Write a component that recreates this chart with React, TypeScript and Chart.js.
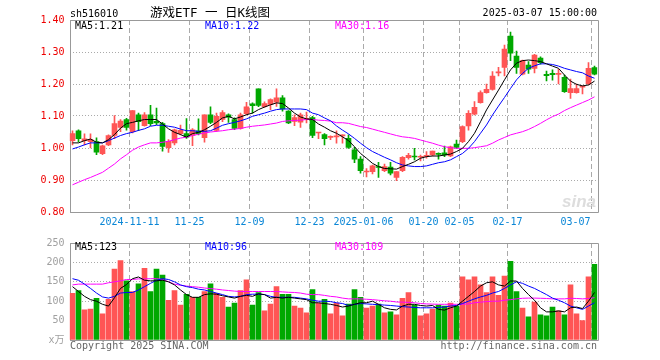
import React, { useEffect, useRef } from "react";
import { Chart, registerables } from "chart.js";

Chart.register(...registerables);

const dates = [
  "2024-10-28", "2024-10-29", "2024-10-30", "2024-10-31", "2024-11-01",
  "2024-11-04", "2024-11-05", "2024-11-06", "2024-11-07", "2024-11-08",
  "2024-11-11", "2024-11-12", "2024-11-13", "2024-11-14", "2024-11-15",
  "2024-11-18", "2024-11-19", "2024-11-20", "2024-11-21", "2024-11-22",
  "2024-11-25", "2024-11-26", "2024-11-27", "2024-11-28", "2024-11-29",
  "2024-12-02", "2024-12-03", "2024-12-04", "2024-12-05", "2024-12-06",
  "2024-12-09", "2024-12-10", "2024-12-11", "2024-12-12", "2024-12-13",
  "2024-12-16", "2024-12-17", "2024-12-18", "2024-12-19", "2024-12-20",
  "2024-12-23", "2024-12-24", "2024-12-25", "2024-12-26", "2024-12-27",
  "2024-12-30", "2024-12-31", "2025-01-02", "2025-01-03",
  "2025-01-06", "2025-01-07", "2025-01-08", "2025-01-09", "2025-01-10",
  "2025-01-13", "2025-01-14", "2025-01-15", "2025-01-16", "2025-01-17",
  "2025-01-20", "2025-01-21", "2025-01-22", "2025-01-23", "2025-01-24",
  "2025-01-27",
  "2025-02-05", "2025-02-06", "2025-02-07",
  "2025-02-10", "2025-02-11", "2025-02-12", "2025-02-13", "2025-02-14",
  "2025-02-17", "2025-02-18", "2025-02-19", "2025-02-20", "2025-02-21",
  "2025-02-24", "2025-02-25", "2025-02-26", "2025-02-27", "2025-02-28",
  "2025-03-03", "2025-03-04", "2025-03-05", "2025-03-06", "2025-03-07",
];

const opens = [
  1.023, 1.054, 1.023, 1.020, 1.020, 0.982, 1.010, 1.039, 1.064, 1.089,
  1.051, 1.104, 1.070, 1.104, 1.083, 1.076, 1.001, 1.016, 1.045, 1.045,
  1.039, 1.054, 1.032, 1.104, 1.055, 1.089, 1.104, 1.089, 1.061, 1.107,
  1.138, 1.185, 1.129, 1.136, 1.143, 1.157, 1.115, 1.083, 1.081, 1.089,
  1.095, 1.047, 1.042, 1.033, 1.035, 1.038, 1.030, 0.994, 0.965, 0.925,
  0.926, 0.941, 0.929, 0.940, 0.908, 0.929, 0.970, 0.974, 0.971, 0.974,
  0.978, 0.983, 0.985, 0.975, 1.012, 1.020, 1.069, 1.106, 1.142, 1.173,
  1.183, 1.235, 1.252, 1.350, 1.287, 1.231, 1.259, 1.249, 1.281, 1.230,
  1.233, 1.230, 1.221, 1.173, 1.173, 1.190, 1.200, 1.251,
];
const highs = [
  1.054, 1.057, 1.044, 1.044, 1.032, 1.009, 1.041, 1.101, 1.089, 1.093,
  1.117, 1.109, 1.111, 1.133, 1.125, 1.080, 1.026, 1.059, 1.072, 1.092,
  1.061, 1.091, 1.104, 1.129, 1.109, 1.117, 1.107, 1.094, 1.109, 1.143,
  1.141, 1.185, 1.144, 1.154, 1.185, 1.164, 1.117, 1.104, 1.109, 1.112,
  1.099, 1.048, 1.045, 1.038, 1.054, 1.041, 1.041, 1.002, 0.973, 0.936,
  0.947, 0.955, 0.950, 0.955, 0.926, 0.973, 0.983, 0.999, 0.978, 0.989,
  0.990, 0.985, 1.006, 1.006, 1.025, 1.069, 1.117, 1.145, 1.179, 1.200,
  1.239, 1.252, 1.322, 1.362, 1.303, 1.275, 1.270, 1.293, 1.285, 1.240,
  1.244, 1.246, 1.228, 1.215, 1.200, 1.194, 1.267, 1.256,
];
const lows = [
  1.010, 1.019, 1.010, 1.000, 0.979, 0.979, 1.007, 1.029, 1.051, 1.056,
  1.047, 1.054, 1.068, 1.070, 1.073, 0.990, 0.986, 1.010, 1.041, 1.030,
  1.007, 1.041, 1.018, 1.076, 1.052, 1.082, 1.080, 1.057, 1.059, 1.103,
  1.109, 1.129, 1.127, 1.120, 1.130, 1.115, 1.076, 1.070, 1.064, 1.078,
  1.032, 1.029, 1.010, 1.026, 1.015, 1.015, 0.999, 0.954, 0.921, 0.910,
  0.919, 0.908, 0.926, 0.916, 0.898, 0.926, 0.965, 0.963, 0.960, 0.968,
  0.975, 0.965, 0.973, 0.973, 0.999, 1.017, 1.056, 1.103, 1.140, 1.171,
  1.181, 1.225, 1.225, 1.273, 1.233, 1.228, 1.233, 1.235, 1.262, 1.210,
  1.212, 1.200, 1.174, 1.155, 1.171, 1.169, 1.197, 1.228,
];
const closes = [
  1.045, 1.029, 1.029, 1.026, 0.987, 1.007, 1.039, 1.076, 1.084, 1.064,
  1.117, 1.082, 1.104, 1.076, 1.078, 1.005, 1.021, 1.057, 1.055, 1.034,
  1.057, 1.045, 1.104, 1.080, 1.099, 1.111, 1.096, 1.061, 1.104, 1.129,
  1.132, 1.133, 1.139, 1.151, 1.157, 1.122, 1.078, 1.095, 1.104, 1.093,
  1.039, 1.048, 1.029, 1.035, 1.037, 1.039, 1.002, 0.965, 0.929, 0.926,
  0.944, 0.939, 0.942, 0.921, 0.926, 0.971, 0.977, 0.972, 0.973, 0.976,
  0.990, 0.980, 0.978, 1.004, 1.002, 1.067, 1.108, 1.127, 1.173, 1.183,
  1.225, 1.237, 1.309, 1.296, 1.252, 1.273, 1.246, 1.290, 1.267, 1.226,
  1.229, 1.232, 1.176, 1.186, 1.186, 1.192, 1.249, 1.231,
];

const ma5 = [
  1.016, 1.016, 1.023, 1.028, 1.018, 1.016, 1.026, 1.042, 1.062, 1.076,
  1.080, 1.085, 1.089, 1.089, 1.089, 1.075, 1.060, 1.049, 1.042, 1.034,
  1.045, 1.049, 1.057, 1.068, 1.080, 1.094, 1.099, 1.091, 1.097, 1.104,
  1.109, 1.120, 1.128, 1.135, 1.141, 1.139, 1.125, 1.109, 1.097, 1.091,
  1.089, 1.075, 1.065, 1.054, 1.046, 1.035, 1.023, 1.004, 0.983, 0.968,
  0.952, 0.942, 0.936, 0.935, 0.934, 0.942, 0.949, 0.957, 0.968, 0.973,
  0.975, 0.975, 0.978, 0.981, 0.989, 0.999, 1.020, 1.046, 1.082, 1.119,
  1.150, 1.181, 1.213, 1.244, 1.265, 1.273, 1.275, 1.273, 1.270, 1.263,
  1.256, 1.249, 1.228, 1.209, 1.199, 1.194, 1.197, 1.209,
];
const ma10 = [
  0.997, 1.003, 1.010, 1.016, 1.016, 1.016, 1.023, 1.031, 1.039, 1.045,
  1.049, 1.055, 1.060, 1.068, 1.071, 1.071, 1.068, 1.065, 1.059, 1.054,
  1.054, 1.052, 1.052, 1.054, 1.062, 1.071, 1.076, 1.080, 1.085, 1.091,
  1.099, 1.104, 1.109, 1.115, 1.120, 1.122, 1.122, 1.122, 1.122, 1.120,
  1.109, 1.104, 1.094, 1.085, 1.069, 1.056, 1.044, 1.030, 1.015, 1.001,
  0.989, 0.980, 0.971, 0.963, 0.954, 0.947, 0.944, 0.942, 0.942, 0.944,
  0.949, 0.954, 0.957, 0.963, 0.973, 0.983, 0.999, 1.020, 1.046, 1.072,
  1.103, 1.131, 1.158, 1.186, 1.213, 1.233, 1.249, 1.257, 1.263, 1.263,
  1.261, 1.256, 1.249, 1.244, 1.239, 1.235, 1.225, 1.218,
];
const ma30 = [
  0.885, 0.893, 0.901, 0.908, 0.916, 0.924, 0.937, 0.950, 0.966, 0.979,
  0.993, 1.003, 1.010, 1.016, 1.016, 1.018, 1.021, 1.026, 1.031, 1.034,
  1.039, 1.043, 1.047, 1.050, 1.052, 1.054, 1.057, 1.059, 1.061, 1.065,
  1.068, 1.070, 1.072, 1.075, 1.078, 1.083, 1.085, 1.086, 1.087, 1.089,
  1.089, 1.087, 1.086, 1.084, 1.079, 1.079, 1.077, 1.072, 1.067, 1.064,
  1.059, 1.054, 1.049, 1.044, 1.039, 1.035, 1.033, 1.030, 1.025, 1.020,
  1.015, 1.009, 1.004, 1.001, 0.999, 0.999, 0.999, 1.001, 1.004, 1.007,
  1.015, 1.025, 1.033, 1.041, 1.046, 1.051, 1.058, 1.067, 1.077, 1.088,
  1.098, 1.106, 1.117, 1.126, 1.134, 1.142, 1.150, 1.160,
];

const volumes = [
  120, 127.5, 77.5, 80, 107.5, 67.5, 105, 182.5, 205, 152.5,
  125, 145, 185, 125, 182.5, 167.5, 102.5, 127.5, 90, 117.5,
  110, 110, 125, 145, 120, 110, 85, 95, 127.5, 155,
  90, 122.5, 75, 92.5, 137.5, 117.5, 117.5, 87.5, 82.5, 70,
  130, 95, 105, 67.5, 95, 62.5, 92.5, 130, 110, 82.5,
  87.5, 92.5, 70, 72.5, 65, 107.5, 122.5, 90, 62.5, 67.5,
  80, 90, 87.5, 95, 87.5, 162.5, 155, 162.5, 142.5, 122.5,
  162.5, 115, 165, 202.5, 125, 82.5, 60, 97.5, 65, 62.5,
  85, 75, 65, 142.5, 67.5, 50, 162.5, 195,
];
const volMa5 = [
  137.5, 125, 112.5, 104, 100, 92, 87.5, 109, 133, 143,
  158, 162.5, 154, 152.5, 152.5, 154, 150, 142, 129, 117,
  110, 110, 117, 119, 118, 114, 111, 108, 112.5, 115,
  112.5, 119, 117, 108, 110, 108, 110, 108, 106, 104,
  96, 96, 94, 92, 89, 85, 87.5, 92, 96, 96,
  100, 92, 83, 79, 77.5, 87.5, 92, 92, 89, 87.5,
  89, 79, 77, 83, 87.5, 100, 112.5, 125, 139, 147.5,
  150, 142, 139, 152, 152, 133, 117, 102.5, 83, 72.5,
  72.5, 75, 72.5, 83, 85, 81, 100, 122.5,
];
const volMa10 = [
  158, 154, 144, 133, 121, 111, 108, 112.5, 121, 122.5,
  122.5, 129, 137.5, 146, 154, 158, 156, 150, 142, 137.5,
  135, 131, 129, 125, 121, 117, 112.5, 111, 112.5, 117,
  118, 118, 117, 112.5, 110, 110, 110, 110, 108, 106,
  102.5, 100, 100, 99, 96, 94, 89, 92, 94, 93,
  92, 91, 90, 89, 87.5, 86, 85, 84, 83, 83,
  83, 84, 85, 87.5, 89, 94, 100, 106, 111, 115,
  121, 125, 133, 142, 150, 146, 139, 133, 125, 117,
  108, 102.5, 96, 87.5, 83, 79, 87.5, 96,
];
const volMa30 = [
  142, 144, 144, 144, 144, 144, 147.5, 150, 152.5, 156,
  156, 157.5, 157.5, 158, 158, 156, 150, 144, 141, 139,
  137.5, 136, 134, 132.5, 131, 129, 127.5, 126, 125, 125,
  125, 125, 125, 125, 125, 124, 123, 122.5, 121, 118,
  117, 117, 115, 112.5, 111, 108, 106, 106, 106, 105,
  104, 102.5, 101, 100, 98, 97.5, 97, 96, 94, 93,
  92.5, 92, 92, 92, 92, 92, 93, 96, 97.5, 99,
  100, 100, 102.5, 104, 106, 107.5, 108, 108, 107.5, 107,
  106, 106, 106, 107.5, 107, 106, 107, 109,
];

const tickDates = [
  "2024-11-11", "2024-11-25", "2024-12-09", "2024-12-23", "2025-01-06",
  "2025-01-20", "2025-02-05", "2025-02-17", "2025-03-07",
];
const tickLabels = [
  "2024-11-11", "11-25", "12-09", "12-23", "2025-01-06",
  "01-20", "02-05", "02-17", "03-07",
];

const priceMin = 0.8;
const priceMax = 1.4;
const priceStep = 0.1;
const volMax = 250;
const volStep = 50;

const UP = "#ff5555";
const DOWN = "#00a800";
const MONO = '"DejaVu Sans Mono", "Noto Sans CJK SC", monospace';
const GRID = "#aaaaaa";
const FRAME = "#999999";

const last = (a: number[]) => a[a.length - 1];

function framePlugin(id: string) {
  return {
    id,
    beforeDatasetsDraw(chart: any) {
      const { ctx, chartArea } = chart;
      const l = Math.round(chartArea.left) + 0.5;
      const r = Math.round(chartArea.right) - 0.5 + 1;
      const t = Math.round(chartArea.top) + 0.5;
      const b = Math.round(chartArea.bottom) + 0.5;
      ctx.save();
      ctx.strokeStyle = FRAME;
      ctx.lineWidth = 1;
      ctx.setLineDash([]);
      ctx.beginPath();
      ctx.moveTo(l, t);
      ctx.lineTo(r, t);
      ctx.lineTo(r, b);
      ctx.lineTo(l, b);
      ctx.closePath();
      ctx.stroke();
      ctx.restore();
    },
  };
}

export default function App() {
  const priceRef = useRef<HTMLCanvasElement>(null);
  const volRef = useRef<HTMLCanvasElement>(null);

  useEffect(() => {
    const colors = opens.map((o, i) => (closes[i] >= o ? UP : DOWN));
    const tickIdx = tickDates.map((d) => dates.indexOf(d));
    const vGridColor = (c: any) => (tickIdx.includes(c.index) ? GRID : "rgba(0,0,0,0)");

    const xScale = (height: number) => ({
      type: "category" as const,
      offset: true,
      grid: { offset: true, color: vGridColor, drawTicks: false, lineWidth: 1 },
      border: { display: false, dash: [5, 3] },
      ticks: { display: false, autoSkip: false },
      afterFit: (s: any) => {
        s.height = height;
      },
    });

    const lineDs = (label: string, data: number[], color: string) => ({
      type: "line" as const,
      label,
      data,
      borderColor: color,
      backgroundColor: color,
      borderWidth: 1,
      pointRadius: 0,
      tension: 0,
      fill: false,
      order: 0,
    });

    const xLabelPlugin = {
      id: "xlabels",
      afterDraw(chart: any) {
        const { ctx, chartArea, scales } = chart;
        const xs = scales.x;
        const half = (xs.getPixelForValue(1) - xs.getPixelForValue(0)) / 2;
        ctx.save();
        ctx.font = `10px ${MONO}`;
        ctx.fillStyle = "#0a86d6";
        ctx.textAlign = "center";
        ctx.textBaseline = "middle";
        tickIdx.forEach((idx, k) => {
          const text = tickLabels[k];
          const w = ctx.measureText(text).width;
          let x = xs.getPixelForValue(idx) - half;
          if (x + w / 2 > chartArea.right - 7) x = chartArea.right - 7 - w / 2;
          ctx.fillText(text, x, chartArea.bottom + 10);
        });
        ctx.restore();
      },
    };

    const price = new Chart(priceRef.current as HTMLCanvasElement, {
      type: "bar",
      data: {
        labels: dates,
        datasets: [
          lineDs("MA5", ma5, "#000000"),
          lineDs("MA10", ma10, "#0000ff"),
          lineDs("MA30", ma30, "#ff00ff"),
          {
            type: "bar",
            label: "body",
            data: opens.map((o, i) => [o, closes[i]]),
            backgroundColor: colors,
            borderWidth: 0,
            barThickness: 5,
            minBarLength: 1,
            grouped: false,
            order: 1,
          } as any,
          {
            type: "bar",
            label: "wick",
            data: lows.map((l, i) => [l, highs[i]]),
            backgroundColor: colors,
            borderWidth: 0,
            barThickness: 1,
            grouped: false,
            order: 2,
          } as any,
        ],
      },
      options: {
        animation: false,
        responsive: false,
        events: [],
        layout: { padding: { top: 20, right: 62.5, left: 0, bottom: 0 } },
        plugins: { legend: { display: false }, tooltip: { enabled: false } },
        scales: {
          x: xScale(20),
          y: {
            type: "linear",
            min: priceMin,
            max: priceMax,
            ticks: {
              stepSize: priceStep,
              callback: (v: any) => Number(v).toFixed(2),
              color: "#ee0000",
              font: { family: MONO, size: 10 },
              padding: 5,
            },
            grid: { color: GRID, drawTicks: false, lineWidth: 1 },
            border: { display: false, dash: [1, 2] },
            afterFit: (s: any) => {
              s.width = 69.5;
            },
          },
        },
      } as any,
      plugins: [framePlugin("pframe"), xLabelPlugin],
    });

    const vol = new Chart(volRef.current as HTMLCanvasElement, {
      type: "bar",
      data: {
        labels: dates,
        datasets: [
          lineDs("MA5", volMa5, "#000000"),
          lineDs("MA10", volMa10, "#0000ff"),
          lineDs("MA30", volMa30, "#ff00ff"),
          {
            type: "bar",
            label: "volume",
            data: volumes,
            backgroundColor: colors,
            borderWidth: 0,
            barThickness: 5,
            grouped: false,
            order: 1,
          } as any,
        ],
      },
      options: {
        animation: false,
        responsive: false,
        events: [],
        layout: { padding: { top: 8, right: 62.5, left: 0, bottom: 20 } },
        plugins: { legend: { display: false }, tooltip: { enabled: false } },
        scales: {
          x: xScale(0),
          y: {
            type: "linear",
            min: 0,
            max: volMax,
            ticks: {
              stepSize: volStep,
              callback: (v: any) => (Number(v) === 0 ? "x万" : String(v)),
              color: "#a0a0a0",
              font: { family: MONO, size: 10 },
              padding: 5,
            },
            grid: { color: GRID, drawTicks: false, lineWidth: 1 },
            border: { display: false, dash: [1, 2] },
            afterFit: (s: any) => {
              s.width = 69.5;
            },
          },
        },
      } as any,
      plugins: [framePlugin("vframe")],
    });

    return () => {
      price.destroy();
      vol.destroy();
    };
  }, []);

  const txt = {
    fontFamily: MONO,
    fontSize: 10,
  } as React.CSSProperties;

  return (
    <div
      style={{
        position: "fixed",
        left: 0,
        top: 0,
        width: 660,
        height: 360,
        background: "#ffffff",
        overflow: "hidden",
      }}
    >
      <canvas ref={priceRef} width={660} height={232} style={{ position: "absolute", left: 0, top: 0 }} />
      <canvas ref={volRef} width={660} height={128} style={{ position: "absolute", left: 0, top: 232 }} />
      <svg
        width={660}
        height={360}
        style={{ position: "absolute", left: 0, top: 0, pointerEvents: "none" }}
      >
        <text x={70} y={16.5} fill="#000" style={txt}>sh516010</text>
        <text
          x={210}
          y={16.7}
          fill="#000"
          textAnchor="middle"
          style={{ ...txt, fontSize: 12.5, whiteSpace: "pre" }}
        >
          游戏ETF 一 日K线图
        </text>
        <text x={597} y={16} fill="#000" textAnchor="end" style={txt}>2025-03-07 15:00:00</text>

        <text x={75} y={29.3} fill="#000000" style={txt}>{`MA5:${last(ma5).toFixed(2)}`}</text>
        <text x={205} y={29.3} fill="#0000ff" style={txt}>{`MA10:${last(ma10).toFixed(2)}`}</text>
        <text x={335} y={29.3} fill="#ff00ff" style={txt}>{`MA30:${last(ma30).toFixed(2)}`}</text>

        <text x={75} y={250} fill="#000000" style={txt}>{`MA5:${last(volMa5).toFixed(0)}`}</text>
        <text x={205} y={250} fill="#0000ff" style={txt}>{`MA10:${last(volMa10).toFixed(0)}`}</text>
        <text x={335} y={250} fill="#ff00ff" style={txt}>{`MA30:${last(volMa30).toFixed(0)}`}</text>

        <text
          x={596}
          y={207}
          fill="#dddddd"
          textAnchor="end"
          style={{ fontFamily: '"Liberation Sans", sans-serif', fontSize: 17, fontWeight: "bold", fontStyle: "italic" }}
        >
          sina
        </text>

        <text x={70} y={349} fill="#666666" style={txt}>Copyright 2025 SINA.COM</text>
        <text x={597} y={349} fill="#666666" textAnchor="end" style={txt}>http://finance.sina.com.cn</text>
      </svg>
    </div>
  );
}
